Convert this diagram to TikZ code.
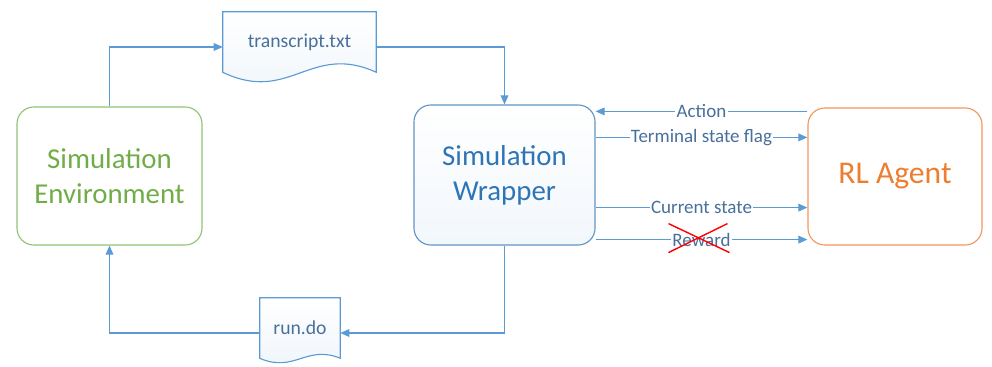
\documentclass[tikz,border=0pt]{standalone}
\usepackage{fontspec}
\setmainfont{Carlito}
\usetikzlibrary{arrows.meta,shapes,positioning,backgrounds}
\definecolor{lnblue}{RGB}{91,155,213}
\definecolor{txblue}{RGB}{46,117,182}
\definecolor{lblblue}{RGB}{72,112,156}
\definecolor{envgreen}{RGB}{112,173,71}
\definecolor{rlorange}{RGB}{237,125,49}
\tikzstyle{arrow} = [line width=0.9pt,->,>={Triangle[length=6.5pt,width=5.5pt]},color=lnblue]
\tikzstyle{box} = [rectangle, rounded corners=12pt, line width=0.8pt, align=center, font=\fontsize{20.5}{25}\selectfont]
\tikzstyle{doc} = [rectangle, minimum height=1.5cm, text=lblblue, font=\fontsize{14}{16}\selectfont]
\tikzstyle{lbl} = [fill=white, inner sep=1pt, text=lblblue, font=\fontsize{13.5}{15}\selectfont]

\begin{document}
\begin{tikzpicture}[x=0.025cm, y=-0.025cm]
\useasboundingbox (0,0) rectangle (992,367);

% Main blocks
\node[box, draw=envgreen!75, text=envgreen, minimum width=4.625cm, minimum height=3.45cm] (env) at (109.5,176) {Simulation\\Environment};
\node[box, draw=lnblue!80!gray, text=txblue, top color=white, bottom color=lnblue!8, minimum width=4.525cm, minimum height=3.5cm] (wrap) at (504.5,175) {Simulation\\Wrapper};
\node[box, draw=rlorange!80, text=rlorange, minimum width=4.35cm, minimum height=3.425cm, font=\fontsize{22.5}{27}\selectfont] (rl) at (895,176.5) {RL Agent};

% Files
\node[doc, minimum width=3.825cm] (tr) at (299.5,42) {transcript.txt};
\node[doc, minimum width=2cm] (run) at (300,328) {run.do};
\begin{pgfonlayer}{background}
\draw[lnblue, line width=0.8pt, top color=white, bottom color=lnblue!10] (tr.south west) -- (tr.north west) -- (tr.north east) -- (tr.south east) .. controls +(-66,-30) and +(67,32) .. (tr.south west) -- cycle;
\draw[lnblue, line width=0.8pt, top color=white, bottom color=lnblue!10] (run.south west) -- (run.north west) -- (run.north east) -- (run.south east) .. controls +(-34,-14) and +(35,15) .. (run.south west) -- cycle;
\end{pgfonlayer}

% Loop through the files
\draw[arrow] (env.north) |- ([shift={(0,5)}]tr.west);
\draw[arrow] ([shift={(0,5)}]tr.east) -| (wrap.north);
\draw[arrow] (wrap.south) |- ([shift={(0,5)}]run.east);
\draw[arrow] ([shift={(0,5)}]run.west) -| (env.south);

% Wrapper <-> agent
\coordinate (act) at ([shift={(0,4)}]rl.north west);
\coordinate (tsf) at ([shift={(0,33)}]wrap.north east);
\coordinate (cst) at ([shift={(0,-38)}]wrap.south east);
\coordinate (rwd) at ([shift={(0,-6)}]wrap.south east);
\draw[arrow] (act) -- (act -| wrap.east) node[lbl, midway] {Action};
\draw[arrow] (tsf) -- (tsf -| rl.west) node[lbl, midway] {Terminal state flag};
\draw[arrow] (cst) -- (cst -| rl.west) node[lbl, midway] {Current state};
\draw[arrow] (rwd) -- (rwd -| rl.west) node[lbl, midway] (rwlbl) {Reward};
\draw[red, line width=1pt] ([shift={(-33,-16)}]rwlbl.center) -- ([shift={(28,13)}]rwlbl.center);
\draw[red, line width=1pt] ([shift={(-33,13)}]rwlbl.center) -- ([shift={(26,-16)}]rwlbl.center);
\end{tikzpicture}
\end{document}
